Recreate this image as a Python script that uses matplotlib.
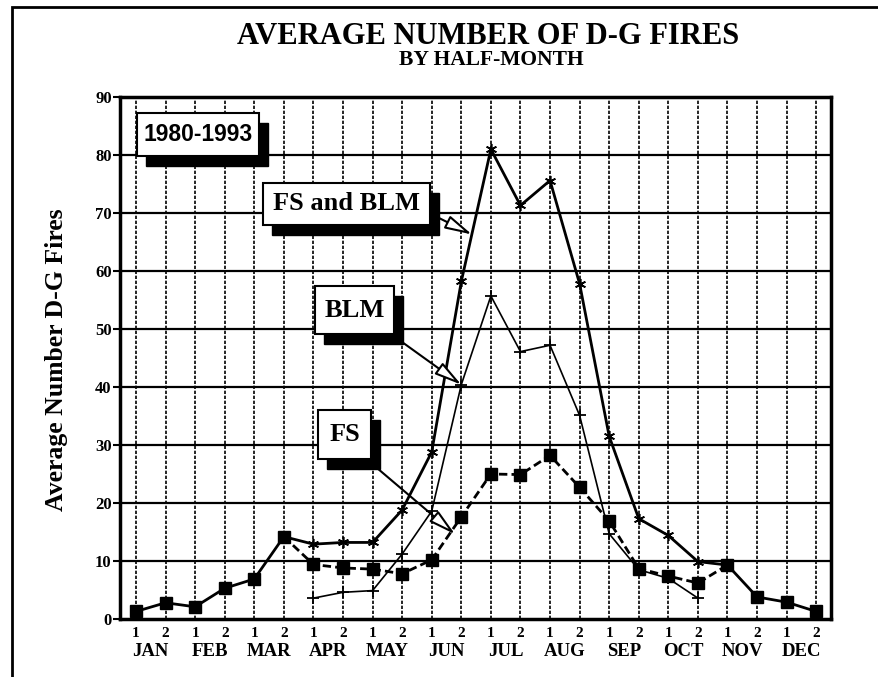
import matplotlib.pyplot as plt
from matplotlib.patches import Rectangle

plt.rcParams['font.family'] = ['Liberation Serif', 'DejaVu Serif']
plt.rcParams['font.weight'] = 'bold'

# データ(半月ごとの平均件数)
months = ['JAN', 'FEB', 'MAR', 'APR', 'MAY', 'JUN', 'JUL', 'AUG', 'SEP', 'OCT', 'NOV', 'DEC']
halves = ['1', '2'] * 12
fs = [1.3, 2.8, 2.1, 5.3, 6.9, 14.2, 9.4, 8.8, 8.6, 7.8, 10.2, 17.6,
      25.0, 24.9, 28.2, 22.7, 16.9, 8.7, 7.4, 6.2, 9.3, 3.8, 2.9, 1.3]
# BLM と FS+BLM は APR 1 - OCT 2 のみ
blm = [3.6, 4.6, 4.9, 11.2, 18.6, 40.4, 55.7, 46.1, 47.2, 35.1, 14.7, 8.5, 7.0, 3.6]
fs_blm = [12.9, 13.2, 13.2, 18.8, 28.8, 58.2, 81.0, 71.3, 75.6, 57.8, 31.5, 17.3, 14.4, 9.9]
yticks = [0, 10, 20, 30, 40, 50, 60, 70, 80, 90]

W, H = 879, 677
fig = plt.figure(figsize=(W / 100, H / 100), dpi=100)
ax = fig.add_axes([120 / W, 1 - 619 / H, 711 / W, 522 / H])

x = list(range(24))
xb = x[6:20]

# 外枠
fig.add_artist(Rectangle((12 / W, -0.1), 1.2, 1 - 7 / H + 0.1, transform=fig.transFigure,
                         fill=False, ec='black', lw=2))

# グリッド
for v in yticks[1:-1]:
    ax.axhline(v, color='black', lw=1.6, zorder=1)
for i in x:
    ax.axvline(i, color='black', lw=1.2, ls=(0, (2, 1)), zorder=1)

# FS+BLM (実線, アスタリスク)
ax.plot([5] + xb + [20], [fs[5]] + fs_blm + [fs[20]], color='black', lw=2, zorder=3)
ax.plot(xb, fs_blm, ls='none', marker=(6, 2, 0), ms=8, mec='black', mew=1.2, zorder=4)
# BLM (細線, +)
ax.plot(xb, blm, color='black', lw=1.2, marker='+', ms=9, mew=1.3, zorder=3)
# FS (破線, 四角)
ax.plot(x[:6], fs[:6], color='black', lw=2, zorder=3)
ax.plot(x[5:21], fs[5:21], color='black', lw=2, ls=(0, (3, 1.5)), zorder=3)
ax.plot(x[20:], fs[20:], color='black', lw=2, zorder=3)
ax.plot(x, fs, ls='none', marker='s', ms=8, color='black', zorder=5)

ax.set_xlim(-0.54, 23.5)
ax.set_ylim(0, 90)
ax.set_yticks(yticks)
ax.set_xticks(x)
ax.set_xticklabels(halves, fontsize=11, fontweight='bold')
ax.tick_params(axis='x', length=0, pad=6)
ax.tick_params(axis='y', length=5, width=1.5, labelsize=12, pad=1)
for s in ax.spines.values():
    s.set_linewidth(2.5)

for i, m in enumerate(months):
    ax.text(2 * i + 0.5, -0.063, m, transform=ax.get_xaxis_transform(),
            ha='center', va='center', fontsize=13.5, fontweight='bold')

ax.set_ylabel('Average Number D-G Fires', fontsize=18.5, fontweight='bold')
ax.yaxis.set_label_coords(-0.073, 0.496)

fig.text(488 / W, 1 - 44 / H, 'AVERAGE NUMBER OF D-G FIRES', ha='center', va='baseline',
         fontsize=22, fontweight='bold')
fig.text(491 / W, 1 - 65 / H, 'BY HALF-MONTH', ha='center', va='baseline',
         fontsize=15.5, fontweight='bold')


# 影付きのラベルボックス(ピクセル座標, 左上原点)
def shadow_box(x0, y0, x1, y1, label, size, family):
    fig.add_artist(Rectangle((x0 / W + 9 / W, 1 - (y1 + 10) / H), (x1 - x0) / W, (y1 - y0) / H,
                             transform=fig.transFigure, color='black', zorder=10))
    fig.add_artist(Rectangle((x0 / W, 1 - y1 / H), (x1 - x0) / W, (y1 - y0) / H,
                             transform=fig.transFigure, fc='white', ec='black', lw=1.5, zorder=11))
    fig.text((x0 + x1) / 2 / W, 1 - (y0 + y1) / 2 / H, label, ha='center', va='center',
             fontsize=size, fontweight='bold', family=family, zorder=12)


def pointer(px, py, xd, yd):
    ax.annotate('', xy=(xd, yd), xytext=(px, H - py), textcoords='figure pixels',
                arrowprops=dict(arrowstyle='-|>,head_length=1.1,head_width=0.28',
                                mutation_scale=15, fc='white', ec='black', lw=1.5,
                                shrinkA=0, shrinkB=0),
                zorder=9, annotation_clip=False)


pointer(437, 217, 11.36, 66.3)
pointer(402, 342, 11.0, 40.4)
pointer(377, 468, 10.79, 14.6)

shadow_box(137, 113, 259, 156, '1980-1993', 16.5, ['Liberation Sans', 'DejaVu Sans'])
shadow_box(263, 183, 430, 225, 'FS and BLM', 19, ['Liberation Serif', 'DejaVu Serif'])
shadow_box(315, 286, 394, 334, 'BLM', 19, ['Liberation Serif', 'DejaVu Serif'])
shadow_box(318, 410, 371, 459, 'FS', 19, ['Liberation Serif', 'DejaVu Serif'])

fig.savefig('out.png', dpi=100)
